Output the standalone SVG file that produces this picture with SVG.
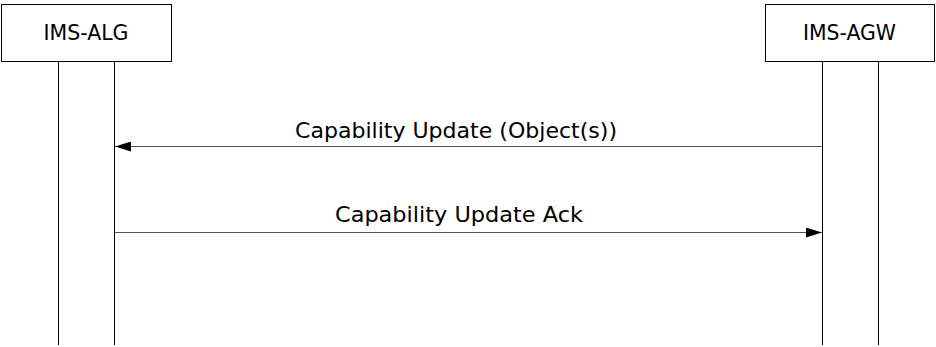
<svg xmlns="http://www.w3.org/2000/svg" width="936" height="347" viewBox="0 0 936 347">
<style>
.box{fill:#fff;stroke:#000;stroke-width:1}
.life{stroke:#000;stroke-width:1;fill:none}
.msg{stroke:#555;stroke-width:1;fill:none}
text{font-family:"DejaVu Sans","Liberation Sans",sans-serif;fill:#000}
.t{font-size:20.5px}
.n{font-size:22px}
</style>
<defs>
<marker id="ah" markerWidth="16" markerHeight="10" refX="16" refY="5" orient="auto" markerUnits="userSpaceOnUse">
<path d="M0,0 L16,5 L0,10 Z" fill="#000"/>
</marker>
</defs>
<g id="lifelines">
<line class="life" x1="58.5" y1="61" x2="58.5" y2="345"/>
<line class="life" x1="114.5" y1="61" x2="114.5" y2="345"/>
<line class="life" x1="822.5" y1="61" x2="822.5" y2="345"/>
<line class="life" x1="878.5" y1="61" x2="878.5" y2="345"/>
</g>
<g id="ims-alg">
<rect class="box" x="1.5" y="4.5" width="170" height="57"/>
<text class="n" x="86" y="40" text-anchor="middle" textLength="85" lengthAdjust="spacingAndGlyphs">IMS-ALG</text>
</g>
<g id="ims-agw">
<rect class="box" x="765.5" y="4.5" width="169" height="57"/>
<text class="n" x="849.5" y="40" text-anchor="middle" textLength="93" lengthAdjust="spacingAndGlyphs">IMS-AGW</text>
</g>
<g id="connectors">
<line class="msg" x1="822" y1="146.5" x2="115" y2="146.5" marker-end="url(#ah)"/>
<line class="msg" x1="115" y1="232.5" x2="822" y2="232.5" marker-end="url(#ah)"/>
<text class="t" x="456" y="138" text-anchor="middle" textLength="322" lengthAdjust="spacingAndGlyphs">Capability Update (Object(s))</text>
<text class="t" x="459" y="222" text-anchor="middle" textLength="248" lengthAdjust="spacingAndGlyphs">Capability Update Ack</text>
</g>
</svg>
